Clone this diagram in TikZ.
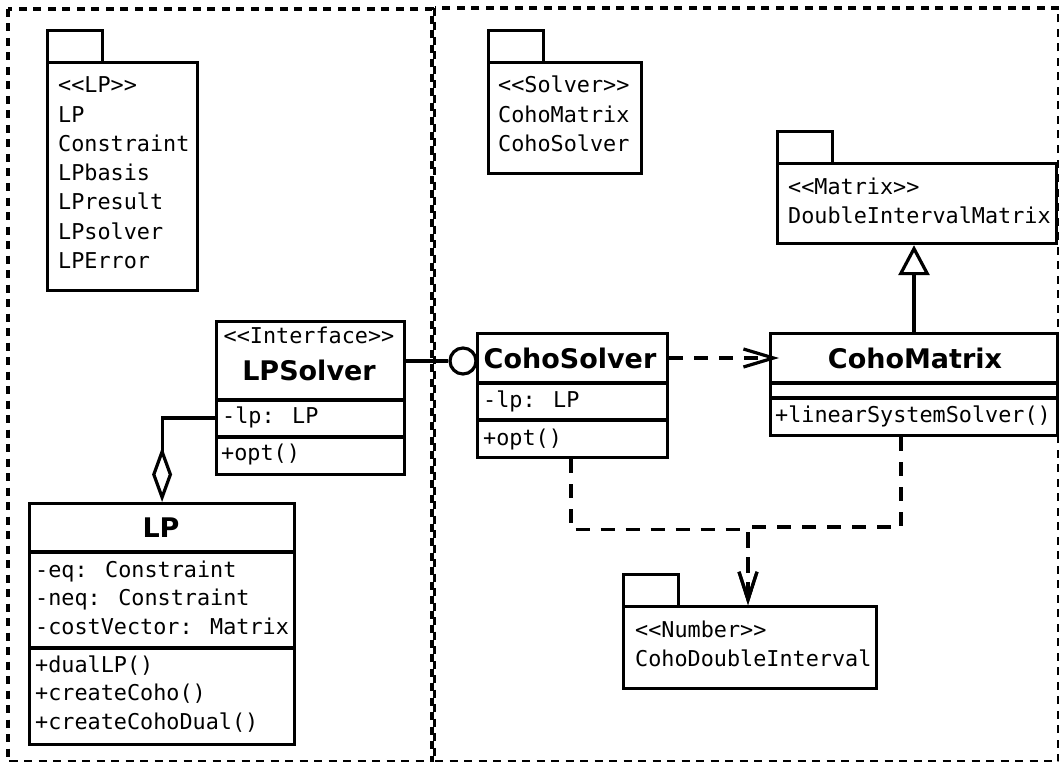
\documentclass[tikz,border=0pt]{standalone}
\usepackage{fontspec}
\usetikzlibrary{arrows.meta}
\newfontfamily\umlmono{DejaVu Sans Mono}
\newfontfamily\umlsans{DejaVu Sans}

\tikzset{
  umlbox/.style={draw, line width=3.2pt, inner sep=0pt, anchor=north west, fill=white},
  mono/.style={font=\umlmono\fontsize{21.8}{26}\selectfont, inner sep=0pt, anchor=base west},
  cname/.style={font=\umlsans\bfseries\fontsize{27}{32}\selectfont, inner sep=0pt, anchor=base},
  rule/.style={line width=3.2pt},
  frame/.style={line width=3.2pt, dash pattern=on 8pt off 6.5pt},
  dep/.style={line width=3.2pt, dash pattern=on 14pt off 11pt,
    -{Straight Barb[length=28pt, width=18pt]}},
  gen/.style={line width=3.2pt, -{Triangle[length=30pt, width=31pt, fill=white]}},
  agg/.style={line width=3.2pt, -{Diamond[length=55pt, width=20pt, fill=white]}}
}

\begin{document}
\begin{tikzpicture}[x={(1pt,0pt)}, y={(0pt,-1pt)}]
\fill[white] (0,0) rectangle (1059,762);
\useasboundingbox (0,0) rectangle (1059,762);

% subsystem frames
\draw[frame] (8,9) rectangle (432,761.5);
\draw[frame] (434.5,8) rectangle (1059,761.5);

% package LP
\node[umlbox, minimum width=55pt, minimum height=32pt] (lptab) at (46,29) {};
\node[umlbox, minimum width=150pt, minimum height=228pt] (lppkg) at (46,61) {};
\foreach \t [count=\i] in {<<LP>>, LP, Constraint, LPbasis, LPresult, LPsolver, LPError}
  \node[mono] (lppkg-\i) at (58,{93+29.2*(\i-1)}) {\t};

% package Solver
\node[umlbox, minimum width=55pt, minimum height=32pt] (solvertab) at (487,29) {};
\node[umlbox, minimum width=153pt, minimum height=111pt] (solverpkg) at (487,61) {};
\foreach \t [count=\i] in {<<Solver>>, CohoMatrix, CohoSolver}
  \node[mono] (solverpkg-\i) at (498,{93+29.2*(\i-1)}) {\t};

% package Matrix
\node[umlbox, minimum width=55pt, minimum height=32pt] (matrixtab) at (776,130) {};
\node[umlbox, minimum width=279pt, minimum height=80pt] (matrixpkg) at (776,162) {};
\node[mono] (matrixpkg-1) at (788,194) {<<Matrix>>};
\node[mono] (matrixpkg-2) at (788,223) {DoubleIntervalMatrix};

% package Number
\node[umlbox, minimum width=55pt, minimum height=32pt] (numbertab) at (622,573) {};
\node[umlbox, minimum width=253pt, minimum height=82pt] (numberpkg) at (622,605) {};
\node[mono] (numberpkg-1) at (635,637) {<<Number>>};
\node[mono] (numberpkg-2) at (635,666) {CohoDoubleInterval};

% class LPSolver
\node[umlbox, minimum width=188pt, minimum height=153pt] (lpsolver) at (215,320) {};
\draw[rule] ([yshift=-80pt]lpsolver.north west) -- ([yshift=-80pt]lpsolver.north east);
\draw[rule] ([yshift=-117pt]lpsolver.north west) -- ([yshift=-117pt]lpsolver.north east);
\node[mono, anchor=base] (lpsolver-st) at (309,343) {<<Interface>>};
\node[cname] (lpsolver-name) at (309,380) {LPSolver};
\node[mono] (lpsolver-a1) at (222,423) {-lp: LP};
\node[mono] (lpsolver-o1) at (221,460) {+opt()};

% class CohoSolver
\node[umlbox, minimum width=190pt, minimum height=124pt] (cohosolver) at (476,332) {};
\draw[rule] ([yshift=-51pt]cohosolver.north west) -- ([yshift=-51pt]cohosolver.north east);
\draw[rule] ([yshift=-88pt]cohosolver.north west) -- ([yshift=-88pt]cohosolver.north east);
\node[cname] (cohosolver-name) at (570,368) {CohoSolver};
\node[mono] (cohosolver-a1) at (483,407) {-lp: LP};
\node[mono] (cohosolver-o1) at (483,445) {+opt()};

% class CohoMatrix
\node[umlbox, minimum width=287pt, minimum height=102pt] (cohomatrix) at (769,332) {};
\draw[rule] ([yshift=-51pt]cohomatrix.north west) -- ([yshift=-51pt]cohomatrix.north east);
\draw[rule] ([yshift=-66pt]cohomatrix.north west) -- ([yshift=-66pt]cohomatrix.north east);
\node[cname] (cohomatrix-name) at (915,368) {CohoMatrix};
\node[mono] (cohomatrix-o1) at (775,422) {+linearSystemSolver()};

% class LP
\node[umlbox, minimum width=265pt, minimum height=241pt] (lp) at (28,502) {};
\draw[rule] ([yshift=-50pt]lp.north west) -- ([yshift=-50pt]lp.north east);
\draw[rule] ([yshift=-146pt]lp.north west) -- ([yshift=-146pt]lp.north east);
\node[cname] (lp-name) at (161,537) {LP};
\node[mono] (lp-a1) at (35,577) {-eq: Constraint};
\node[mono] (lp-a2) at (35,605) {-neq: Constraint};
\node[mono] (lp-a3) at (35,634) {-costVector: Matrix};
\node[mono] (lp-o1) at (35,672) {+dualLP()};
\node[mono] (lp-o2) at (35,700) {+createCoho()};
\node[mono] (lp-o3) at (35,729) {+createCohoDual()};

% provided interface (lollipop)
\node[circle, draw, line width=3.2pt, minimum size=26pt, inner sep=0pt, fill=white] (iface) at (463,361) {};
\draw[rule] (iface.west -| lpsolver.east) -- (iface.west);

% aggregation LPSolver <>-- LP
\draw[agg] ([yshift=-98pt]lpsolver.north west) -| (lp.north);

% generalization CohoMatrix --|> Matrix
\coordinate (genfoot) at ([xshift=145pt]cohomatrix.north west);
\draw[gen] (genfoot) -- (genfoot |- matrixpkg.south);

% dependency CohoSolver --> CohoMatrix
\coordinate (solvdep) at ([yshift=-26pt]cohosolver.north east);
\draw[dep, -{Straight Barb[length=30pt, width=18pt]}, shorten >=-10pt] (solvdep) -- (solvdep -| cohomatrix.west);

% dependencies on Number
\coordinate (numtip) at ([xshift=126pt]numberpkg.north west);
\coordinate (solvfoot) at ([xshift=95pt]cohosolver.south west);
\coordinate (matfoot) at ([xshift=132pt]cohomatrix.south west);
\coordinate (joinA) at (748,529.5);
\coordinate (joinB) at (748,527);
\draw[dep] (solvfoot) |- (joinA) -- (numtip);
\draw[dep] (matfoot) |- (joinB) -- (numtip);
\end{tikzpicture}
\end{document}
